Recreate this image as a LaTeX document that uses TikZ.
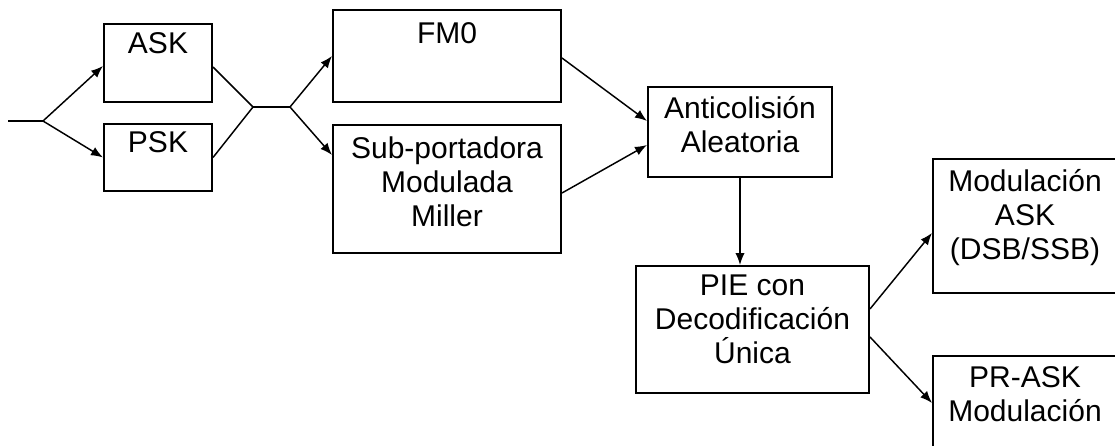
\documentclass[tikz,border=0pt]{standalone}
\usepackage{fontspec}
\setmainfont{Liberation Sans}
\usepackage{tikz}
\usetikzlibrary{arrows.meta,positioning}

\begin{document}
\begin{tikzpicture}[
  x=0.75pt, y=-0.75pt,
  box/.style={draw,line width=1.5pt,inner sep=0pt},
  txt/.style={align=center,inner sep=0pt,font=\fontsize{22.5}{25.5}\selectfont},
  wire/.style={line width=1.1pt},
  arr/.style={-{Latex[length=9pt,width=7pt]},line width=1.1pt}
]
\useasboundingbox (0,0) rectangle (1115,446);
% boxes
\node[box,minimum width=81pt,minimum height=58.5pt] (ask) at (158,63) {};
\node[box,minimum width=81pt,minimum height=50.25pt] (psk) at (158,157.5) {};
\node[box,minimum width=171pt,minimum height=69pt] (fm0) at (447,56) {};
\node[box,minimum width=171pt,minimum height=96pt] (sub) at (447,189) {};
\node[box,minimum width=138pt,minimum height=67.5pt] (anti) at (740,132) {};
\node[box,minimum width=174.75pt,minimum height=95.25pt] (pie) at (752.5,329.5) {};
\node[box,minimum width=138pt,minimum height=100.5pt] (mod) at (1025,226) {};
\node[box,minimum width=138pt,minimum height=100.5pt] (prask) at (1025,423) {};
% texts
\node[txt,below=6.75pt of ask.north] (ask-t) {ASK};
\node[txt,below=6pt of psk.north] (psk-t) {PSK};
\node[txt,below=9.75pt of fm0.north] (fm0-t) {FM0};
\node[txt,below=9pt of sub.north] (sub-t) {Sub-portadora\\Modulada\\Miller};
\node[txt,below=7.5pt of anti.north] (anti-t) {Anticolisión\\Aleatoria};
\node[txt,below=7.5pt of pie.north] (pie-t) {PIE con\\Decodificación\\Única};
\node[txt,below=8.25pt of mod.north] (mod-t) {Modulación\\ASK\\(DSB/SSB)};
\node[txt,below=8.25pt of prask.north] (prask-t) {PR-ASK\\Modulación};
% junctions
\coordinate (in) at (8,121);
\coordinate (j1) at (43,121);
\coordinate (j2) at (253,107);
\coordinate (j3) at (290,107);
% connectors
\draw[wire] (in) -- (j1);
\draw[arr] (j1) -- ([yshift=-2.25pt]ask.west);
\draw[arr] (j1) -- (psk.west);
\draw[wire] ([yshift=-3pt]ask.east) -- (j2) -- (psk.east);
\draw[wire] (j2) -- (j3);
\draw[arr] (j3) -- (fm0.west);
\draw[arr] (j3) -- ([yshift=25.5pt]sub.west);
\draw[arr] ([yshift=-1.5pt]fm0.east) -- ([yshift=8.25pt]anti.west);
\draw[arr] ([yshift=-3pt]sub.east) -- ([yshift=-9.75pt]anti.west);
\draw[arr] (anti.south) -- (anti.south |- pie.north);
\draw[arr] ([yshift=15.4pt]pie.east) -- ([yshift=-5.25pt]mod.west);
\draw[arr] ([yshift=-5.6pt]pie.east) -- ([yshift=15pt]prask.west);
\end{tikzpicture}
\end{document}
